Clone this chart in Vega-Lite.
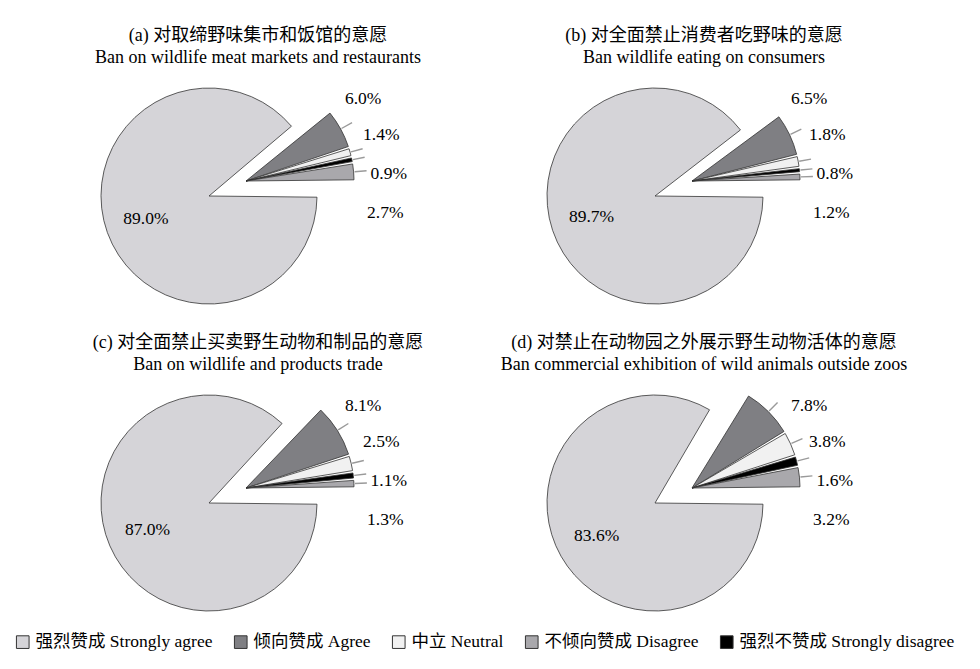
{
  "$schema": "https://vega.github.io/schema/vega-lite/v6.json",
  "background": "white",
  "padding": {"left": 14, "top": 27, "right": 5, "bottom": 5},
  "data": {
    "values": [
      {"panel": "(a) 对取缔野味集市和饭馆的意愿|Ban on wildlife meat markets and restaurants", "cat": "强烈赞成 Strongly agree", "grp": "strongly agree", "ord": 1, "v": 0.890},
      {"panel": "(a) 对取缔野味集市和饭馆的意愿|Ban on wildlife meat markets and restaurants", "cat": "倾向赞成 Agree", "grp": "others", "ord": 2, "v": 0.060},
      {"panel": "(a) 对取缔野味集市和饭馆的意愿|Ban on wildlife meat markets and restaurants", "cat": "中立 Neutral", "grp": "others", "ord": 3, "v": 0.014},
      {"panel": "(a) 对取缔野味集市和饭馆的意愿|Ban on wildlife meat markets and restaurants", "cat": "强烈不赞成 Strongly disagree", "grp": "others", "ord": 4, "v": 0.009},
      {"panel": "(a) 对取缔野味集市和饭馆的意愿|Ban on wildlife meat markets and restaurants", "cat": "不倾向赞成 Disagree", "grp": "others", "ord": 5, "v": 0.027},
      {"panel": "(b) 对全面禁止消费者吃野味的意愿|Ban wildlife eating on consumers", "cat": "强烈赞成 Strongly agree", "grp": "strongly agree", "ord": 1, "v": 0.897},
      {"panel": "(b) 对全面禁止消费者吃野味的意愿|Ban wildlife eating on consumers", "cat": "倾向赞成 Agree", "grp": "others", "ord": 2, "v": 0.065},
      {"panel": "(b) 对全面禁止消费者吃野味的意愿|Ban wildlife eating on consumers", "cat": "中立 Neutral", "grp": "others", "ord": 3, "v": 0.018},
      {"panel": "(b) 对全面禁止消费者吃野味的意愿|Ban wildlife eating on consumers", "cat": "强烈不赞成 Strongly disagree", "grp": "others", "ord": 4, "v": 0.008},
      {"panel": "(b) 对全面禁止消费者吃野味的意愿|Ban wildlife eating on consumers", "cat": "不倾向赞成 Disagree", "grp": "others", "ord": 5, "v": 0.012},
      {"panel": "(c) 对全面禁止买卖野生动物和制品的意愿|Ban on wildlife and products trade", "cat": "强烈赞成 Strongly agree", "grp": "strongly agree", "ord": 1, "v": 0.870},
      {"panel": "(c) 对全面禁止买卖野生动物和制品的意愿|Ban on wildlife and products trade", "cat": "倾向赞成 Agree", "grp": "others", "ord": 2, "v": 0.081},
      {"panel": "(c) 对全面禁止买卖野生动物和制品的意愿|Ban on wildlife and products trade", "cat": "中立 Neutral", "grp": "others", "ord": 3, "v": 0.025},
      {"panel": "(c) 对全面禁止买卖野生动物和制品的意愿|Ban on wildlife and products trade", "cat": "强烈不赞成 Strongly disagree", "grp": "others", "ord": 4, "v": 0.011},
      {"panel": "(c) 对全面禁止买卖野生动物和制品的意愿|Ban on wildlife and products trade", "cat": "不倾向赞成 Disagree", "grp": "others", "ord": 5, "v": 0.013},
      {"panel": "(d) 对禁止在动物园之外展示野生动物活体的意愿|Ban commercial exhibition of wild animals outside zoos", "cat": "强烈赞成 Strongly agree", "grp": "strongly agree", "ord": 1, "v": 0.836},
      {"panel": "(d) 对禁止在动物园之外展示野生动物活体的意愿|Ban commercial exhibition of wild animals outside zoos", "cat": "倾向赞成 Agree", "grp": "others", "ord": 2, "v": 0.078},
      {"panel": "(d) 对禁止在动物园之外展示野生动物活体的意愿|Ban commercial exhibition of wild animals outside zoos", "cat": "中立 Neutral", "grp": "others", "ord": 3, "v": 0.038},
      {"panel": "(d) 对禁止在动物园之外展示野生动物活体的意愿|Ban commercial exhibition of wild animals outside zoos", "cat": "强烈不赞成 Strongly disagree", "grp": "others", "ord": 4, "v": 0.016},
      {"panel": "(d) 对禁止在动物园之外展示野生动物活体的意愿|Ban commercial exhibition of wild animals outside zoos", "cat": "不倾向赞成 Disagree", "grp": "others", "ord": 5, "v": 0.032}
    ]
  },
  "facet": {
    "field": "panel",
    "type": "nominal",
    "title": null,
    "header": {
      "labelExpr": "split(datum.value, '|')",
      "labelFont": "Liberation Serif, Noto Sans CJK SC",
      "labelFontSize": 18,
      "labelColor": "#000000",
      "labelLineHeight": 22,
      "labelPadding": 5
    }
  },
  "columns": 2,
  "spacing": {"row": 12, "column": 26},
  "spec": {
    "width": 420,
    "height": 250,
    "resolve": {"scale": {"theta": "independent"}},
    "layer": [
      {
        "mark": {"type": "arc", "outerRadius": 108, "stroke": "#333333", "strokeWidth": 0.8, "padAngle": 0.022},
        "encoding": {
          "theta": {"field": "v", "type": "quantitative", "stack": true, "scale": {"domain": [0, 1], "range": [1.5708, 7.854], "zero": false}},
          "order": {"field": "ord", "type": "quantitative", "sort": "ascending"},
          "color": {
            "field": "cat",
            "type": "nominal",
            "scale": {
              "domain": ["强烈赞成 Strongly agree", "倾向赞成 Agree", "中立 Neutral", "不倾向赞成 Disagree", "强烈不赞成 Strongly disagree"],
              "range": ["#d5d4d8", "#7f7f83", "#f1f1f1", "#a9a8ac", "#000000"]
            },
            "legend": {
              "title": null,
              "orient": "none",
              "legendX": -34,
              "legendY": 561,
              "direction": "horizontal",
              "columns": 5,
              "symbolType": "square",
              "symbolSize": 160,
              "symbolStrokeColor": "#333333",
              "symbolStrokeWidth": 1,
              "labelFont": "Liberation Serif, Noto Sans CJK SC",
              "labelFontSize": 17.5,
              "labelColor": "#000000",
              "labelLimit": 400,
              "columnPadding": 19,
              "labelOffset": 4
            }
          },
          "x": {"field": "grp", "type": "nominal", "scale": {"domain": ["strongly agree", "others"], "range": [161, 198], "padding": 0}, "axis": null},
          "y": {"field": "grp", "type": "nominal", "scale": {"domain": ["strongly agree", "others"], "range": [124, 109], "padding": 0}, "axis": null}
        }
      },
      {
        "mark": {"type": "arc", "innerRadius": 109, "outerRadius": 121, "padAngle": 3, "fillOpacity": 0, "stroke": "#9a9a9a", "strokeWidth": 1.4},
        "encoding": {
          "theta": {"field": "v", "type": "quantitative", "stack": true, "scale": {"domain": [0, 1], "range": [1.5708, 7.854], "zero": false}},
          "order": {"field": "ord", "type": "quantitative", "sort": "ascending"},
          "detail": {"field": "cat"},
          "x": {"field": "grp", "type": "nominal", "scale": {"domain": ["strongly agree", "others"], "range": [161, 198], "padding": 0}, "axis": null},
          "y": {"field": "grp", "type": "nominal", "scale": {"domain": ["strongly agree", "others"], "range": [124, 109], "padding": 0}, "axis": null},
          "strokeOpacity": {"condition": {"test": "datum.grp === 'others'", "value": 1}, "value": 0}
        }
      },
      {
        "transform": [{"filter": "datum.grp === 'strongly agree'"}],
        "mark": {"type": "text", "radius": 67, "fontSize": 17.5, "font": "Liberation Serif, Noto Sans CJK SC", "color": "#000000"},
        "encoding": {
          "theta": {"field": "v", "type": "quantitative", "stack": true, "scale": {"domain": [0, 1], "range": [1.5708, 7.854], "zero": false}},
          "order": {"field": "ord", "type": "quantitative", "sort": "ascending"},
          "detail": {"field": "cat"},
          "x": {"field": "grp", "type": "nominal", "scale": {"domain": ["strongly agree", "others"], "range": [161, 198], "padding": 0}, "axis": null},
          "y": {"field": "grp", "type": "nominal", "scale": {"domain": ["strongly agree", "others"], "range": [124, 109], "padding": 0}, "axis": null},
          "text": {"field": "v", "type": "quantitative", "format": ".1%"}
        }
      },
      {
        "transform": [{"filter": "datum.grp === 'others'"}],
        "mark": {"type": "text", "radius": 143, "fontSize": 17.5, "font": "Liberation Serif, Noto Sans CJK SC", "color": "#000000"},
        "encoding": {
          "theta": {"field": "ord", "type": "quantitative", "stack": null, "scale": {"domain": [2, 5], "range": [0.96, 1.8], "zero": false}},
          "x": {"field": "grp", "type": "nominal", "scale": {"domain": ["strongly agree", "others"], "range": [161, 198], "padding": 0}, "axis": null},
          "y": {"field": "grp", "type": "nominal", "scale": {"domain": ["strongly agree", "others"], "range": [124, 109], "padding": 0}, "axis": null},
          "text": {"field": "v", "type": "quantitative", "format": ".1%"}
        }
      }
    ]
  },
  "config": {
    "view": {"stroke": null},
    "text": {"font": "Liberation Serif, Noto Sans CJK SC"}
  }
}
